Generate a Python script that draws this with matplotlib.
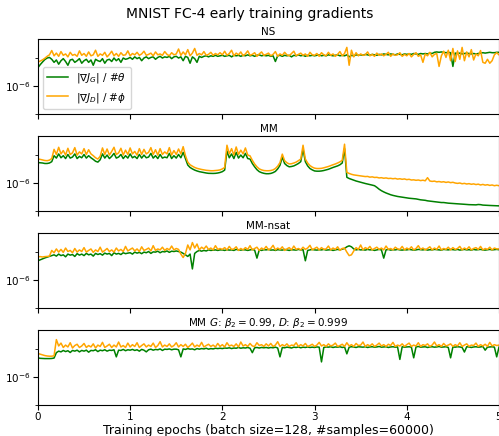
import numpy as np
import matplotlib
matplotlib.use("Agg")
import matplotlib.pyplot as plt

# gradient norms per parameter, in units of 1e-6, sampled every 0.025 epochs
SCALE = 1e-6
epochs = np.linspace(0, 5, 201)

ns_g = [
    4.5, 5.8, 7.2, 8.8, 10.0, 10.5, 9.0, 7.0, 8.5, 6.0, 8.0, 9.5, 7.5, 5.5, 8.5, 9.0, 7.0, 8.0, 9.5, 6.5,
    8.0, 9.0, 7.0, 8.5, 5.5, 9.0, 8.0, 7.5, 9.5, 6.5, 8.5, 9.0, 7.5, 10.0, 8.0, 9.5, 7.0, 10.0, 9.0, 9.5,
    10.5, 9.0, 11.0, 9.5, 10.5, 8.0, 10.0, 11.0, 9.5, 10.5, 11.0, 9.0, 10.5, 11.5, 10.0, 11.0, 10.5, 11.5, 9.5, 11.0,
    11.5, 10.0, 11.0, 8.0, 11.5, 10.5, 6.5, 11.0, 9.5, 7.0, 11.5, 10.5, 11.5, 12.0, 11.0, 12.0, 11.5, 12.5, 11.5, 12.0,
    12.5, 11.5, 12.0, 12.5, 11.0, 12.5, 12.0, 12.5, 11.5, 12.5, 12.0, 13.0, 12.0, 12.5, 11.5, 12.5, 13.0, 12.0, 12.5, 12.0,
    12.5, 11.5, 12.0, 7.5, 12.0, 12.5, 11.5, 12.5, 12.0, 12.5, 11.0, 12.5, 12.0, 13.0, 12.0, 12.5, 11.5, 12.5, 12.0, 12.5,
    12.0, 12.5, 13.0, 12.0, 12.5, 12.0, 13.0, 12.5, 12.0, 12.5, 13.0, 12.0, 12.5, 12.0, 13.0, 11.0, 12.5, 12.0, 13.0, 12.5,
    13.0, 12.5, 13.5, 13.0, 12.5, 13.5, 13.0, 12.5, 13.5, 13.0, 14.0, 13.5, 13.0, 14.0, 13.5, 13.0, 14.0, 13.5, 13.0, 14.0,
    13.5, 14.0, 13.5, 14.5, 14.0, 13.5, 14.5, 14.0, 14.5, 14.0, 15.0, 14.5, 16.0, 16.5, 16.0, 16.5, 16.0, 15.5, 16.0, 15.5,
    5.0, 15.0, 14.5, 15.0, 14.0, 14.5, 15.0, 14.5, 14.0, 14.5, 14.0, 14.5, 15.0, 15.5, 15.0, 15.5, 16.0, 15.5, 15.5, 16.0,
    16.0,
]
ns_d = [
    7.2, 7.8, 8.6, 9.8, 11.5, 13.0, 18.5, 12.0, 15.0, 11.5, 17.0, 12.5, 14.0, 11.0, 16.0, 12.5, 13.5, 11.5, 18.0, 12.5,
    14.5, 11.5, 16.5, 12.0, 13.0, 19.0, 11.5, 14.0, 12.5, 16.0, 11.0, 13.5, 17.5, 12.0, 14.5, 11.5, 15.5, 12.5, 13.0, 18.0,
    12.0, 14.5, 13.0, 16.0, 12.5, 14.0, 17.5, 12.5, 13.5, 15.0, 12.0, 16.5, 13.0, 14.0, 12.5, 17.0, 13.5, 12.0, 15.5, 13.0,
    14.0, 21.0, 12.5, 16.5, 13.0, 20.0, 12.0, 15.0, 22.0, 12.5, 14.5, 13.0, 17.0, 12.5, 13.5, 16.0, 12.5, 14.5, 13.0, 15.5,
    13.0, 17.5, 12.5, 14.5, 19.0, 12.0, 15.0, 13.0, 16.5, 12.0, 14.0, 18.0, 12.5, 13.5, 15.5, 11.5, 14.0, 16.5, 12.5, 13.5,
    15.0, 12.0, 13.5, 17.0, 11.5, 14.0, 12.5, 16.0, 13.0, 12.0, 14.5, 17.5, 12.0, 13.5, 15.0, 12.5, 14.0, 11.5, 16.0, 13.0,
    12.5, 14.5, 11.5, 15.5, 13.0, 12.0, 16.0, 12.5, 14.0, 11.5, 13.5, 17.0, 12.0, 14.5, 24.0, 5.5, 19.0, 11.0, 15.5, 12.0,
    14.0, 12.5, 13.0, 16.5, 12.0, 13.5, 11.5, 15.0, 12.5, 14.0, 12.0, 13.5, 16.0, 11.5, 14.0, 12.5, 13.0, 15.5, 11.5, 13.5,
    12.0, 14.5, 11.0, 13.5, 15.5, 11.5, 13.0, 7.0, 14.0, 12.0, 16.0, 11.0, 13.5, 14.5, 5.0, 12.0, 17.5, 10.5, 19.0, 8.0,
    22.0, 7.5, 18.0, 9.0, 24.0, 8.0, 16.5, 11.0, 20.0, 8.5, 14.0, 12.0, 18.5, 7.0, 6.5, 9.0, 6.5, 8.0, 13.0, 15.5,
    13.0,
]

mm_g = [
    5.4, 5.3, 5.2, 5.0, 5.0, 5.2, 5.8, 9.5, 7.8, 11.0, 8.0, 9.5, 7.5, 10.5, 7.8, 8.5, 11.0, 7.5, 9.0, 8.0,
    10.5, 7.8, 9.5, 8.0, 7.0, 6.0, 5.6, 6.8, 11.0, 7.8, 10.0, 7.5, 9.0, 11.5, 7.8, 8.5, 10.5, 7.5, 9.5, 7.8,
    11.0, 8.0, 9.0, 7.5, 10.5, 7.8, 10.0, 8.0, 8.5, 11.5, 7.8, 9.5, 7.5, 10.5, 7.8, 8.5, 8.0, 11.5, 7.5, 9.5,
    7.8, 10.5, 8.0, 12.5, 7.5, 4.4, 3.6, 3.2, 2.9, 2.7, 2.55, 2.45, 2.35, 2.28, 2.22, 2.2, 2.2, 2.22, 2.28, 2.38,
    2.55, 2.9, 14.0, 8.0, 11.0, 7.5, 12.5, 7.8, 10.0, 8.0, 11.5, 7.5, 7.2, 5.0, 3.8, 3.0, 2.55, 2.35, 2.22, 2.15,
    2.15, 2.2, 2.35, 2.6, 3.2, 4.3, 8.5, 5.0, 4.2, 3.8, 3.9, 4.1, 4.5, 5.0, 5.8, 16.0, 5.8, 4.1, 3.3, 2.95,
    2.7, 2.65, 2.65, 2.7, 2.8, 2.95, 3.1, 3.35, 3.6, 3.85, 4.1, 4.5, 5.2, 17.0, 1.6, 1.45, 1.35, 1.25, 1.18, 1.12,
    1.06, 1.0, 0.96, 0.92, 0.88, 0.84, 0.8, 0.7, 0.6, 0.53, 0.48, 0.44, 0.41, 0.38, 0.36, 0.345, 0.33, 0.32, 0.31, 0.30,
    0.29, 0.285, 0.28, 0.275, 0.27, 0.26, 0.25, 0.245, 0.24, 0.23, 0.225, 0.22, 0.215, 0.21, 0.205, 0.2, 0.2, 0.195, 0.19, 0.188,
    0.185, 0.182, 0.18, 0.178, 0.175, 0.173, 0.17, 0.168, 0.167, 0.166, 0.165, 0.17, 0.168, 0.162, 0.16, 0.158, 0.157, 0.156, 0.155, 0.154,
    0.152,
]
mm_d = [
    7.2, 7.0, 6.7, 6.4, 6.3, 6.6, 7.5, 16.0, 10.5, 19.0, 11.0, 14.5, 10.0, 17.5, 10.5, 12.0, 18.5, 10.0, 13.0, 11.0,
    17.0, 10.5, 15.5, 11.0, 9.5, 8.0, 7.2, 9.0, 18.0, 10.5, 16.5, 10.0, 13.5, 19.0, 10.5, 12.0, 17.5, 10.0, 15.0, 10.5,
    18.0, 11.0, 13.5, 10.0, 17.0, 10.5, 16.0, 11.0, 12.5, 18.5, 10.5, 15.5, 10.0, 17.0, 10.5, 13.0, 11.0, 18.5, 10.0, 14.5,
    10.5, 16.5, 11.0, 20.0, 9.5, 5.6, 4.5, 4.0, 3.6, 3.35, 3.2, 3.05, 2.95, 2.85, 2.8, 2.75, 2.75, 2.8, 2.85, 2.95,
    3.2, 3.6, 22.5, 11.0, 17.0, 10.0, 19.5, 10.5, 15.0, 11.0, 18.0, 10.0, 9.4, 6.5, 4.8, 3.8, 3.2, 2.95, 2.8, 2.75,
    2.75, 2.8, 2.95, 3.3, 4.0, 5.4, 10.8, 6.3, 5.3, 4.8, 4.9, 5.2, 5.6, 6.3, 7.2, 22.5, 7.2, 5.2, 4.2, 3.7,
    3.4, 3.3, 3.3, 3.35, 3.5, 3.7, 3.9, 4.2, 4.5, 4.8, 5.2, 5.7, 6.5, 24.5, 2.4, 2.2, 2.05, 1.95, 1.9, 1.85,
    1.8, 1.75, 1.7, 1.72, 1.62, 1.66, 1.58, 1.6, 1.52, 1.55, 1.48, 1.52, 1.45, 1.47, 1.42, 1.46, 1.38, 1.42, 1.36, 1.40,
    1.32, 1.36, 1.28, 1.30, 1.25, 1.28, 1.22, 1.26, 1.20, 1.55, 1.18, 1.14, 1.17, 1.10, 1.13, 1.08, 1.11, 1.05, 1.09, 1.03,
    1.06, 1.0, 0.97, 1.0, 0.94, 0.97, 0.92, 0.95, 0.9, 0.93, 0.88, 0.91, 0.85, 0.89, 0.84, 0.87, 0.82, 0.85, 0.8, 0.83,
    0.8,
]

nsat_g = [
    4.9, 5.3, 5.7, 6.2, 6.6, 7.0, 7.5, 8.0, 7.2, 8.5, 7.5, 8.0, 6.8, 8.5, 7.8, 8.2, 7.0, 8.8, 7.8, 8.5,
    7.5, 9.0, 8.0, 8.5, 7.2, 9.0, 8.2, 8.8, 7.8, 9.2, 8.5, 9.0, 7.5, 9.5, 8.5, 9.0, 8.2, 9.5, 8.8, 9.2,
    9.5, 8.5, 10.0, 9.2, 9.8, 8.8, 10.0, 9.5, 10.5, 9.0, 10.2, 10.0, 10.8, 9.5, 10.5, 10.2, 11.0, 9.8, 10.8, 10.5,
    11.0, 10.5, 10.0, 9.0, 8.0, 7.0, 8.5, 2.5, 9.0, 10.5, 11.5, 10.8, 11.5, 11.0, 12.0, 11.5, 11.8, 12.0, 11.5, 12.0,
    12.0, 11.5, 12.2, 11.8, 12.0, 11.5, 12.5, 12.0, 11.8, 12.2, 12.0, 11.5, 12.0, 12.5, 11.8, 6.1, 12.0, 11.5, 12.2, 12.0,
    12.5, 11.8, 12.0, 11.5, 12.2, 12.0, 11.8, 12.5, 12.0, 11.5, 12.2, 12.0, 11.8, 12.5, 12.0, 12.2, 4.9, 11.5, 12.0, 12.5,
    12.0, 11.8, 12.2, 12.0, 12.5, 11.8, 12.0, 12.2, 11.5, 12.0, 12.5, 12.0, 12.8, 13.5, 15.5, 16.8, 15.5, 13.0, 12.0, 12.5,
    12.0, 12.2, 11.8, 12.5, 12.0, 12.2, 11.5, 12.0, 12.5, 12.0, 6.1, 12.0, 12.5, 11.8, 12.2, 12.0, 12.5, 12.0, 11.8, 12.2,
    12.0, 12.5, 12.2, 11.8, 12.0, 12.5, 12.2, 12.0, 12.5, 11.8, 12.2, 12.0, 12.5, 12.2, 12.0, 11.8, 12.5, 12.2, 12.0, 12.5,
    12.2, 12.0, 12.5, 11.8, 12.2, 12.5, 12.0, 12.2, 11.8, 12.5, 12.0, 12.2, 12.5, 12.0, 11.8, 12.2, 12.5, 12.0, 12.2, 12.5,
    12.2,
]
nsat_d = [
    6.8, 6.9, 6.7, 6.9, 7.0, 7.2, 11.5, 9.5, 13.0, 10.0, 12.5, 9.8, 14.0, 10.5, 11.5, 9.5, 13.5, 10.0, 12.0, 10.5,
    14.5, 10.0, 11.5, 13.0, 9.8, 12.0, 10.5, 15.0, 10.0, 11.5, 13.5, 10.5, 12.0, 10.0, 14.0, 11.0, 12.5, 10.5, 16.0, 11.0,
    12.5, 14.0, 11.0, 13.0, 10.5, 15.5, 11.5, 12.5, 14.0, 11.0, 17.0, 11.5, 13.0, 12.0, 15.0, 11.5, 13.5, 12.0, 16.5, 12.0,
    13.5, 12.5, 8.5, 6.4, 9.0, 18.0, 12.0, 22.0, 14.0, 19.5, 12.0, 15.0, 13.0, 16.5, 12.5, 14.0, 12.0, 17.0, 12.5, 13.5,
    12.5, 14.5, 12.0, 16.0, 12.5, 13.0, 15.5, 11.5, 13.5, 12.0, 14.5, 12.5, 17.0, 12.0, 13.5, 15.0, 11.5, 14.0, 12.5, 16.0,
    12.0, 13.5, 17.5, 12.0, 14.0, 12.5, 15.5, 11.5, 13.0, 14.5, 12.0, 16.5, 12.5, 13.5, 12.0, 15.0, 12.5, 14.0, 17.5, 12.0,
    13.5, 15.0, 12.0, 14.5, 12.5, 13.0, 16.5, 12.0, 14.0, 12.5, 15.5, 11.5, 13.5, 14.0, 10.0, 7.5, 8.0, 11.0, 14.5, 12.5,
    18.0, 12.0, 14.5, 13.0, 16.0, 12.0, 13.5, 15.0, 12.5, 14.0, 12.0, 16.5, 12.5, 13.5, 12.0, 15.0, 13.0, 12.5, 16.0, 12.0,
    14.0, 12.5, 15.5, 12.0, 13.5, 17.0, 12.5, 14.0, 12.0, 13.5, 15.5, 12.0, 14.0, 12.5, 16.5, 12.0, 13.5, 12.5, 15.0, 12.0,
    14.5, 12.5, 13.5, 16.0, 12.0, 14.0, 12.5, 15.5, 12.0, 13.5, 14.5, 12.5, 16.0, 12.0, 13.5, 12.5, 15.0, 12.0, 14.0, 13.0,
    13.0,
]

beta_g = [
    4.9, 4.7, 4.65, 4.6, 4.6, 4.6, 4.65, 4.8, 7.5, 8.5, 8.0, 9.0, 8.2, 8.8, 7.6, 9.0, 8.5, 9.2, 8.0, 9.0,
    8.5, 9.2, 7.8, 9.0, 8.8, 9.5, 8.2, 9.2, 8.8, 9.5, 8.5, 9.2, 9.0, 9.5, 5.3, 9.2, 9.0, 9.8, 8.8, 9.5,
    9.2, 9.8, 9.0, 9.5, 8.5, 9.8, 9.2, 8.0, 9.5, 10.0, 9.2, 9.8, 9.5, 10.2, 9.0, 10.0, 9.8, 10.2, 9.5, 10.0,
    10.0, 9.5, 5.3, 10.2, 9.8, 10.5, 10.0, 10.2, 9.5, 10.5, 10.0, 10.5, 10.2, 10.8, 10.0, 10.5, 10.2, 10.8, 10.5, 10.8,
    10.5, 11.0, 10.8, 11.2, 10.5, 11.0, 10.8, 11.5, 10.8, 11.2, 11.0, 11.5, 10.8, 7.5, 11.2, 11.5, 11.0, 11.5, 11.2, 11.5,
    11.0, 11.5, 11.2, 11.8, 11.0, 5.3, 11.5, 11.2, 11.8, 11.5, 11.0, 11.8, 11.5, 12.0, 11.2, 11.8, 11.5, 12.0, 11.5, 11.8,
    11.5, 12.0, 11.8, 3.5, 11.5, 12.0, 11.8, 12.2, 11.5, 12.0, 11.8, 12.2, 11.5, 12.0, 6.8, 11.8, 12.2, 12.0, 11.5, 12.2,
    12.0, 11.8, 12.2, 11.5, 12.0, 12.2, 11.8, 12.0, 12.5, 11.8, 12.0, 12.2, 11.5, 12.0, 12.2, 11.8, 12.0, 4.3, 12.2, 11.8,
    12.0, 12.2, 11.8, 4.9, 12.0, 12.5, 11.8, 12.0, 12.2, 11.5, 12.0, 12.2, 11.8, 12.0, 12.5, 11.8, 12.0, 12.2, 11.5, 4.9,
    12.0, 11.8, 12.2, 12.0, 11.5, 7.9, 12.2, 12.0, 11.5, 12.0, 12.2, 11.8, 12.0, 12.5, 9.2, 11.8, 12.0, 12.2, 11.8, 5.3,
    11.8,
]
beta_d = [
    7.0, 6.6, 6.2, 5.9, 5.7, 5.6, 5.6, 5.8, 22.0, 13.0, 16.5, 11.5, 14.0, 12.0, 17.0, 11.0, 13.5, 15.0, 11.5, 13.0,
    16.0, 11.5, 13.5, 12.0, 15.5, 11.0, 14.0, 12.5, 17.5, 11.5, 13.0, 15.0, 11.5, 14.0, 12.0, 18.0, 12.0, 13.5, 11.5, 16.5,
    12.0, 14.5, 12.5, 17.0, 11.5, 13.5, 15.5, 12.0, 14.0, 12.5, 16.5, 11.5, 13.5, 18.5, 12.0, 14.0, 12.5, 15.5, 12.0, 13.5,
    17.0, 12.0, 14.5, 12.5, 15.0, 11.5, 13.5, 16.5, 12.0, 14.0, 12.5, 17.5, 12.0, 13.5, 15.0, 12.5, 14.0, 12.0, 16.0, 12.5,
    14.5, 12.0, 17.0, 13.0, 14.0, 12.5, 15.5, 12.0, 18.0, 13.0, 14.5, 12.5, 16.0, 13.0, 12.5, 17.0, 13.5, 14.5, 12.5, 15.5,
    13.0, 16.0, 12.5, 14.0, 18.5, 12.5, 14.5, 13.0, 15.5, 12.5, 14.0, 13.5, 17.0, 12.5, 14.5, 13.0, 16.0, 12.5, 13.5, 15.0,
    12.5, 14.0, 17.5, 13.0, 14.5, 12.5, 15.5, 13.0, 14.0, 16.5, 12.5, 13.5, 15.0, 12.5, 17.0, 13.0, 14.5, 12.5, 16.0, 13.5,
    14.0, 18.0, 12.5, 14.5, 13.0, 15.5, 12.5, 14.0, 16.5, 13.0, 14.5, 12.5, 15.0, 13.5, 17.5, 12.5, 14.0, 13.0, 15.5, 12.5,
    14.5, 16.5, 12.5, 14.0, 13.0, 17.0, 12.5, 14.5, 13.5, 15.5, 12.5, 14.0, 18.0, 13.0, 14.5, 12.5, 16.0, 13.0, 14.0, 15.5,
    12.5, 14.5, 13.0, 17.0, 12.5, 14.0, 15.5, 12.5, 14.0, 13.5, 16.5, 12.5, 14.5, 13.0, 15.0, 12.5, 17.5, 13.0, 14.5, 13.5,
    14.0,
]

panels = [
    ("NS", ns_g, ns_d),
    ("MM", mm_g, mm_d),
    ("MM-nsat", nsat_g, nsat_d),
    (r"MM $G$: $\beta_2=0.99$, $D$: $\beta_2=0.999$", beta_g, beta_d),
]

fig, axes = plt.subplots(4, 1, sharex=True, sharey=True, figsize=(4.99, 4.36), dpi=100)
fig.subplots_adjust(left=0.076, right=1.0, top=0.910, bottom=0.071, hspace=0.30)
fig.suptitle("MNIST FC-4 early training gradients", fontsize=10, y=0.985)

for ax, (name, g, d) in zip(axes, panels):
    ax.plot(epochs, np.array(g) * SCALE, color="green", lw=1.1, label=r"$|\nabla J_G|$ / #$\theta$")
    ax.plot(epochs, np.array(d) * SCALE, color="orange", lw=1.1, label=r"$|\nabla J_D|$ / #$\phi$")
    ax.set_yscale("log")
    ax.set_title(name, fontsize=7.5, pad=3)
    ax.set_yticks([1e-6])
    ax.set_yticks([1e-7, 1e-5], minor=True)
    ax.yaxis.set_minor_formatter(plt.NullFormatter())
    ax.tick_params(labelsize=7.5, pad=1.5)

axes[0].set_ylim(1e-7, 4.7e-5)
axes[0].set_xlim(0, 5)
axes[0].legend(loc="lower left", fontsize=7.5)
axes[-1].set_xlabel("Training epochs (batch size=128, #samples=60000)", fontsize=9, labelpad=1.5)

fig.savefig("out.png")
